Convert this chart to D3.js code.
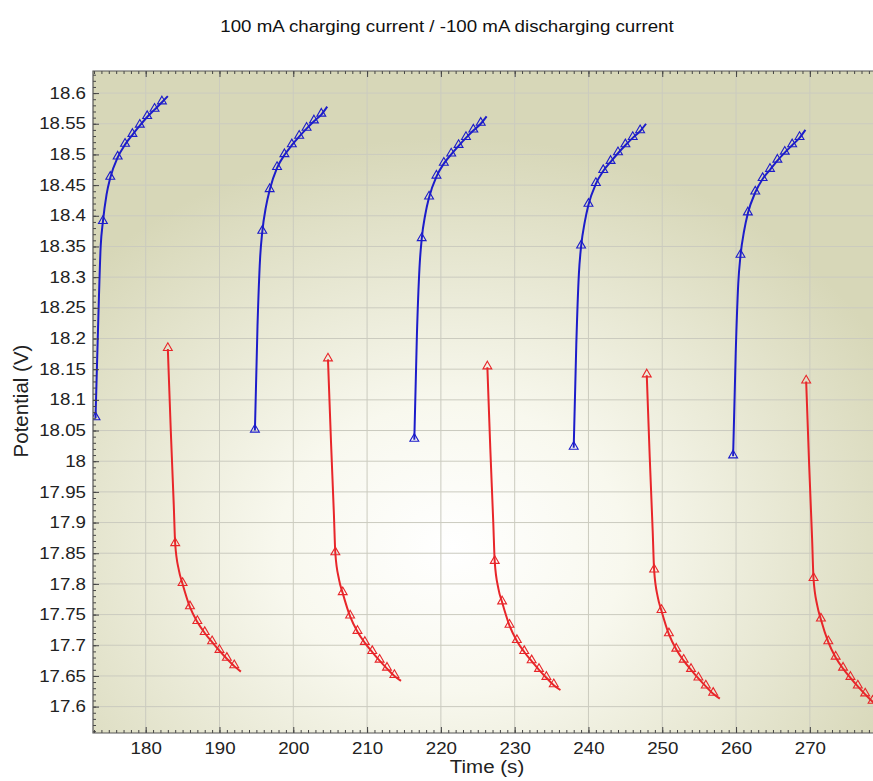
<!DOCTYPE html>
<html lang="en">
<head>
<meta charset="UTF-8">
<title>Charge / discharge potential</title>
<script src="https://d3js.org/d3.v7.min.js"></script>
<style>
    html, body { margin: 0; padding: 0; background: #fff; font-family: "Liberation Sans", Arial, sans-serif; overflow: hidden; }
    svg { display: block; }
</style>
</head>
<body>
<div id="chart"></div>
<script>
// time offsets (s) from the start of each half cycle, line samples
var chargeOffsets = [0, 0.35, 0.7, 1, 1.5, 2, 3, 4, 5, 6, 7, 8, 9, 9.8];
var dischargeOffsets = [0, 0.4, 0.8, 1, 1.5, 2, 3, 4, 5, 6, 7, 8, 9, 9.9];

// start time of each charging / discharging step (s)
var chargeStarts = [173.2, 194.8, 216.4, 238.0, 259.6];
var dischargeStarts = [183.0, 204.7, 226.3, 247.9, 269.5];

// potential (V)
var charge1 = [18.07, 18.22, 18.35, 18.39, 18.435, 18.462, 18.495, 18.516, 18.532, 18.547, 18.561, 18.573, 18.585, 18.595];
var charge2 = [18.05, 18.22, 18.33, 18.374, 18.415, 18.442, 18.478, 18.499, 18.515, 18.529, 18.542, 18.554, 18.565, 18.578];
var charge3 = [18.035, 18.205, 18.315, 18.362, 18.403, 18.43, 18.464, 18.485, 18.5, 18.514, 18.527, 18.539, 18.55, 18.562];
var charge4 = [18.022, 18.19, 18.305, 18.35, 18.39, 18.418, 18.452, 18.473, 18.488, 18.502, 18.515, 18.527, 18.538, 18.55];
var charge5 = [18.008, 18.175, 18.29, 18.335, 18.376, 18.404, 18.438, 18.46, 18.475, 18.49, 18.503, 18.515, 18.527, 18.54];

var discharge1 = [18.183, 18.05, 17.93, 17.865, 17.822, 17.80, 17.762, 17.738, 17.72, 17.705, 17.691, 17.678, 17.666, 17.657];
var discharge2 = [18.166, 18.035, 17.915, 17.85, 17.807, 17.785, 17.747, 17.722, 17.704, 17.689, 17.675, 17.662, 17.65, 17.642];
var discharge3 = [18.153, 18.02, 17.9, 17.836, 17.792, 17.77, 17.732, 17.707, 17.689, 17.674, 17.66, 17.647, 17.635, 17.627];
var discharge4 = [18.14, 18.007, 17.887, 17.822, 17.778, 17.756, 17.718, 17.693, 17.675, 17.66, 17.646, 17.633, 17.621, 17.613];
var discharge5 = [18.13, 17.995, 17.875, 17.808, 17.765, 17.742, 17.705, 17.68, 17.662, 17.647, 17.633, 17.62, 17.608, 17.6];

var xTicks = [180, 190, 200, 210, 220, 230, 240, 250, 260, 270];
var yTicks = [17.6, 17.65, 17.7, 17.75, 17.8, 17.85, 17.9, 17.95, 18, 18.05, 18.1, 18.15, 18.2, 18.25, 18.3, 18.35, 18.4, 18.45, 18.5, 18.55, 18.6];

var W = 873, H = 781;
var pLeft = 93, pTop = 71, pRight = 890, pBottom = 733;
var stretch = 1.17;   // the original text is drawn wide

var svg = d3.select("#chart").append("svg")
    .attr("width", W)
    .attr("height", H)
    .attr("viewBox", "0 0 " + W + " " + H)
    .style("overflow", "hidden");

var x = d3.scaleLinear().domain([172.86, 280.86]).range([pLeft, pRight]);
var y = d3.scaleLinear().domain([17.557, 18.636]).range([pBottom, pTop]);

// background gradient
var defs = svg.append("defs");
var grad = defs.append("radialGradient")
    .attr("id", "bg")
    .attr("cx", 0.45).attr("cy", 0.72).attr("r", 0.62)
    .attr("fx", 0.45).attr("fy", 0.72);
grad.append("stop").attr("offset", "0%").attr("stop-color", "#ffffff");
grad.append("stop").attr("offset", "35%").attr("stop-color", "#f8f8ee");
grad.append("stop").attr("offset", "100%").attr("stop-color", "#d7d7b8");

defs.append("clipPath").attr("id", "clip")
  .append("rect")
    .attr("x", pLeft).attr("y", pTop)
    .attr("width", W - pLeft).attr("height", pBottom - pTop);

var frame = svg.append("g").attr("clip-path", "url(#clip)");

frame.append("rect")
    .attr("x", pLeft).attr("y", pTop)
    .attr("width", pRight - pLeft).attr("height", pBottom - pTop)
    .attr("fill", "url(#bg)");

// gridlines
frame.append("g").selectAll("line").data(xTicks).enter().append("line")
    .attr("x1", function(d) { return x(d); }).attr("x2", function(d) { return x(d); })
    .attr("y1", pTop).attr("y2", pBottom)
    .attr("stroke", "#cbcbbf").attr("stroke-width", 1);
frame.append("g").selectAll("line").data(yTicks).enter().append("line")
    .attr("x1", pLeft).attr("x2", W)
    .attr("y1", function(d) { return y(d); }).attr("y2", function(d) { return y(d); })
    .attr("stroke", "#cbcbbf").attr("stroke-width", 1);

// axes with inward ticks
var minorX = d3.range(173, 279, 1);
var minorY = d3.range(17.56, 18.635, 0.01);

function styleAxis(g) {
    g.select(".domain").remove();
    g.selectAll(".tick line").attr("stroke", "#444");
}
function styleText(g) {
    g.selectAll("text").attr("font-size", 16).attr("fill", "#222")
        .attr("font-family", "Liberation Sans, Arial, sans-serif")
        .attr("transform", "scale(" + stretch + ",1)");
}

svg.append("g")
    .attr("transform", "translate(0," + pBottom + ")")
    .call(d3.axisBottom(x).tickValues(minorX).tickSize(-3).tickFormat(""))
    .call(styleAxis);
svg.append("g")
    .attr("transform", "translate(0," + pBottom + ")")
    .call(d3.axisBottom(x).tickValues(xTicks).tickSize(-6).tickPadding(10).tickFormat(d3.format("d")))
    .call(styleAxis)
    .call(styleText);
svg.append("g")
    .attr("transform", "translate(0," + pTop + ")")
    .call(d3.axisTop(x).tickValues(minorX).tickSize(-3).tickFormat(""))
    .call(styleAxis);
svg.append("g")
    .attr("transform", "translate(0," + pTop + ")")
    .call(d3.axisTop(x).tickValues(xTicks).tickSize(-6).tickFormat(""))
    .call(styleAxis);

svg.append("g")
    .attr("transform", "translate(" + pLeft + ",0)")
    .call(d3.axisLeft(y).tickValues(minorY).tickSize(-3).tickFormat(""))
    .call(styleAxis);
svg.append("g")
    .attr("transform", "translate(" + pLeft + ",0)")
    .call(d3.axisLeft(y).tickValues(yTicks).tickSize(-6).tickFormat(function(d) { return String(+d.toFixed(2)); }))
    .call(styleAxis)
    .call(styleText)
    .call(function(g) { g.selectAll("text").attr("x", -7 / stretch); });

// plot frame: left, top and bottom only, the right side is cut off
svg.append("path")
    .attr("d", "M" + W + "," + pTop + "H" + pLeft + "V" + pBottom + "H" + W)
    .attr("fill", "none")
    .attr("stroke", "#555")
    .attr("stroke-width", 1.2);

// curves
var line = d3.line()
    .x(function(d) { return x(d.t); })
    .y(function(d) { return y(d.v); })
    .curve(d3.curveMonotoneX);

function makeSeries(starts, offsets, values) {
    return starts.map(function(s, i) {
        return offsets.map(function(o, j) { return { t: s + o, v: values[i][j], mark: Number.isInteger(o) }; });
    });
}

var chargeSeries = makeSeries(chargeStarts, chargeOffsets, [charge1, charge2, charge3, charge4, charge5]);
var dischargeSeries = makeSeries(dischargeStarts, dischargeOffsets, [discharge1, discharge2, discharge3, discharge4, discharge5]);

var tri = d3.symbol().type(d3.symbolTriangle).size(34);

function drawSeries(series, color) {
    series.forEach(function(pts) {
        frame.append("path")
            .datum(pts)
            .attr("d", line)
            .attr("fill", "none")
            .attr("stroke", color)
            .attr("stroke-width", 2);
        frame.append("g").selectAll("path")
            .data(pts.filter(function(d) { return d.mark; }))
            .enter().append("path")
            .attr("d", tri)
            .attr("transform", function(d) { return "translate(" + x(d.t) + "," + (y(d.v) - 1) + ")"; })
            .attr("fill", "none")
            .attr("stroke", color)
            .attr("stroke-width", 1.1);
    });
}
drawSeries(chargeSeries, "#1c1cca");
drawSeries(dischargeSeries, "#e8262a");

// titles
svg.append("text")
    .attr("x", 447 / stretch).attr("y", 32)
    .attr("transform", "scale(" + stretch + ",1)")
    .attr("text-anchor", "middle")
    .attr("font-size", 16)
    .attr("fill", "#111")
    .text("100 mA charging current / -100 mA discharging current");

svg.append("text")
    .attr("x", 487 / 1.08).attr("y", 773)
    .attr("transform", "scale(1.08,1)")
    .attr("text-anchor", "middle")
    .attr("font-size", 19)
    .attr("fill", "#222")
    .text("Time (s)");

svg.append("text")
    .attr("transform", "translate(28,401)rotate(-90)")
    .attr("text-anchor", "middle")
    .attr("font-size", 20.5)
    .attr("fill", "#222")
    .text("Potential (V)");
</script>
</body>
</html>
